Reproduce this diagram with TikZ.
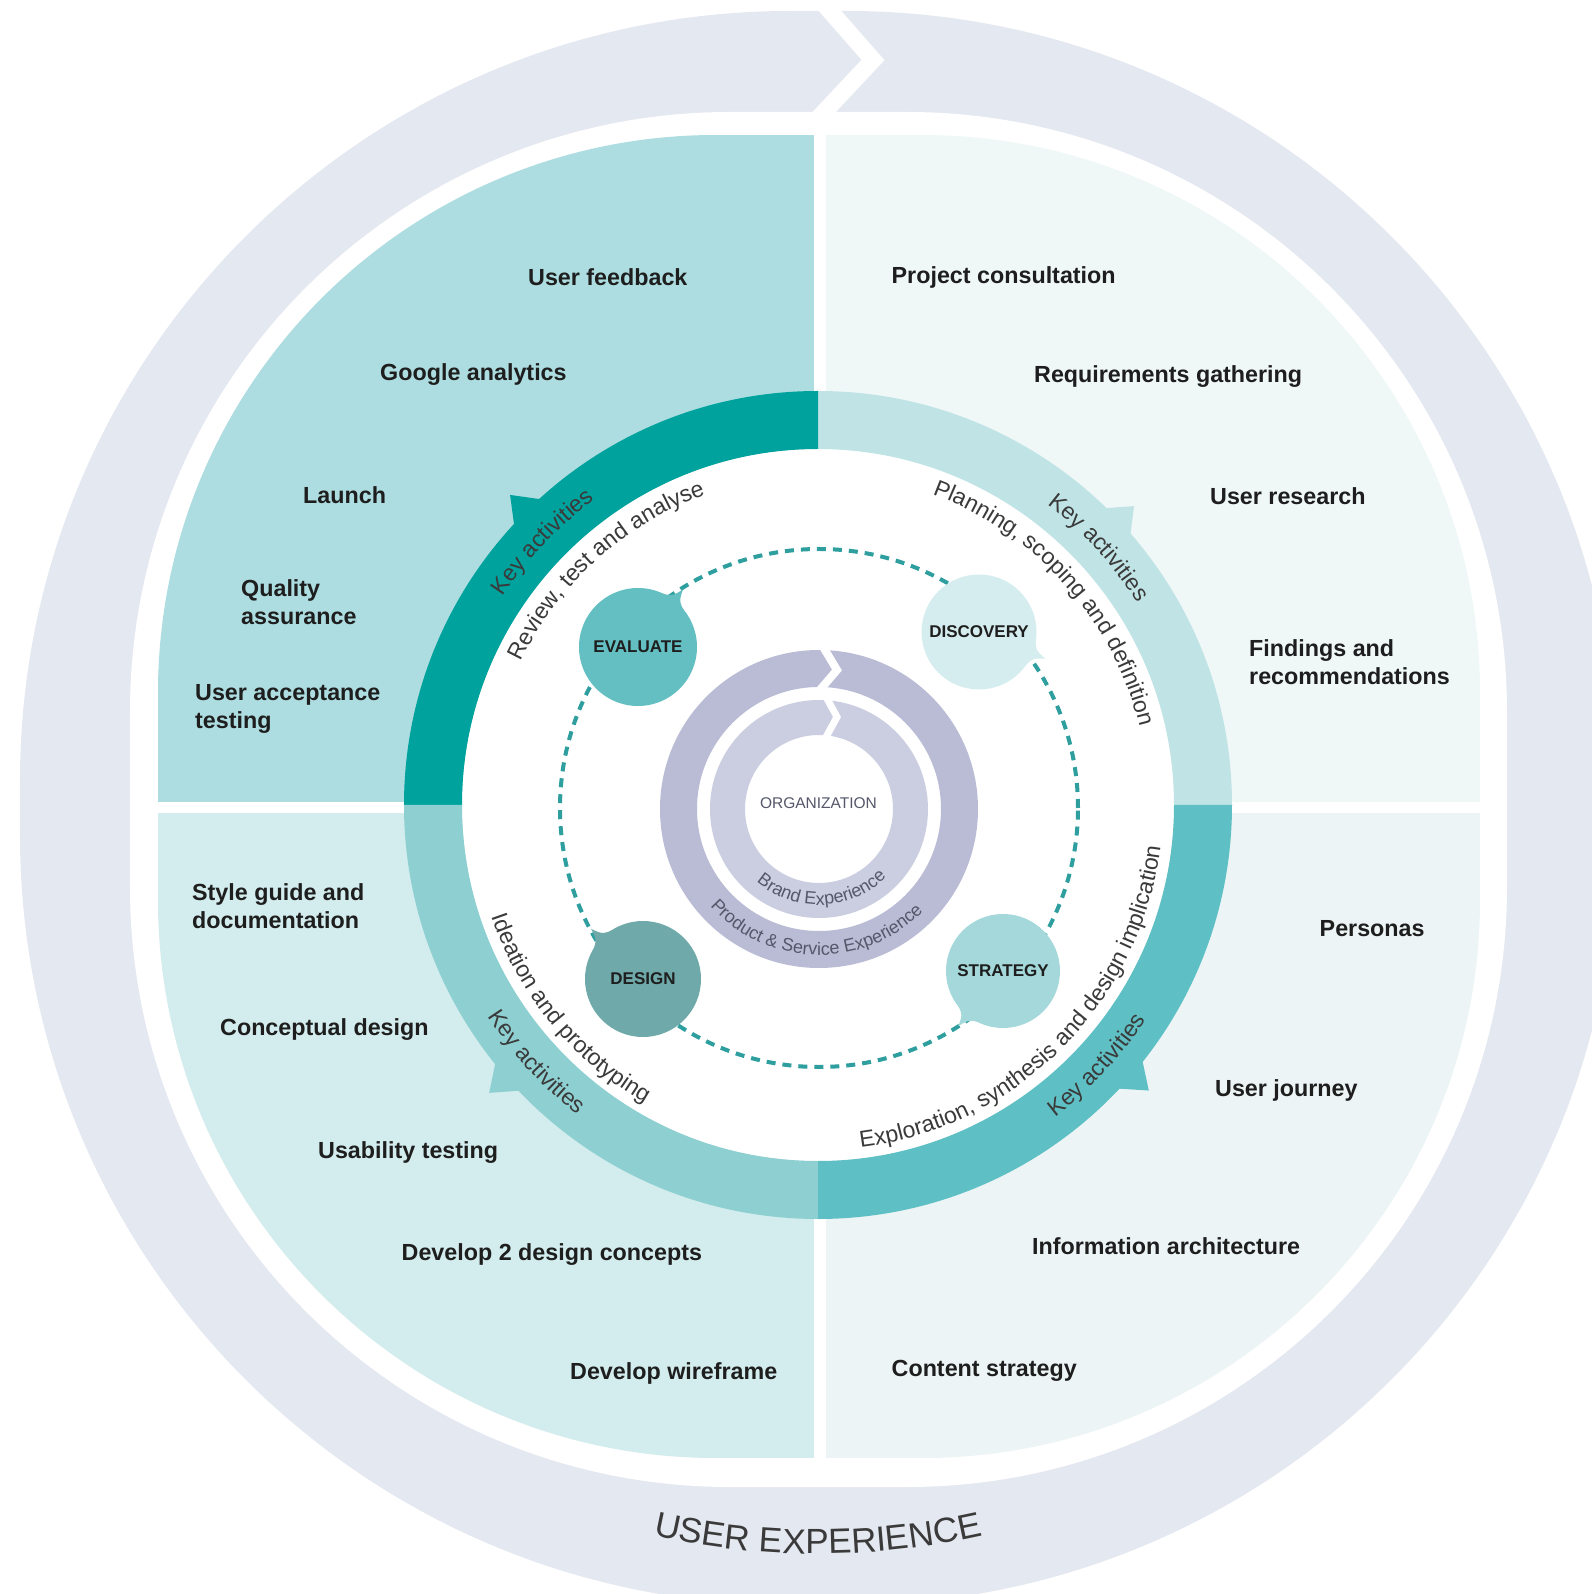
\documentclass[tikz,border=0pt]{standalone}
\usepackage{fontspec}
\setmainfont{Liberation Sans}
\usetikzlibrary{calc}

\definecolor{uxring}{HTML}{E4E8F0}
\definecolor{qtl}{HTML}{ADDDE0}
\definecolor{qtr}{HTML}{EFF7F7}
\definecolor{qbl}{HTML}{D3ECED}
\definecolor{qbr}{HTML}{ECF4F5}
\definecolor{bandtl}{HTML}{00A29D}
\definecolor{bandtr}{HTML}{C0E4E6}
\definecolor{bandbr}{HTML}{5EC0C4}
\definecolor{bandbl}{HTML}{8ED0D2}
\definecolor{evfill}{HTML}{64BFC2}
\definecolor{difill}{HTML}{D6EDEF}
\definecolor{stfill}{HTML}{A4D8DA}
\definecolor{defill}{HTML}{6FA9A9}
\definecolor{dashc}{HTML}{2E9E9E}
\definecolor{orgout}{HTML}{B9BCD4}
\definecolor{orgin}{HTML}{CBCEE0}
\definecolor{ink}{HTML}{1E1E1E}
\definecolor{softink}{HTML}{3A3A3A}
\definecolor{orgink}{HTML}{55576B}

\newcommand\bandfont{\fontsize{23}{27}\selectfont}
\newcommand\ringfont{\fontsize{18}{21}\selectfont}
\newcommand\uxfont{\fontsize{35}{40}\selectfont}

% Text set letter by letter along a circle.
% \ctprepare{name}{font}{text, ~ for spaces} measures the line once and stores
% every letter with the distance of its centre from the middle of the line;
% \ctplace{name}{radius}{middle angle}{direction}{font}{colour} sets it,
% direction 1 = anticlockwise (tops inward), -1 = clockwise (tops outward).
\makeatletter
\newdimen\ct@pos \newdimen\ct@half \newdimen\ct@c
\newcount\ct@n
\newif\ifct@place
\def\ct@stop{\ct@stop}
\newcommand\ctprepare[3]{%
  \def\ct@font{#2}%
  \ct@pos=0pt \ct@placefalse
  \ct@loop#3\ct@stop
  \ct@half=0.5\ct@pos \ct@pos=0pt \ct@placetrue
  \gdef\ct@acc{}%
  \ct@loop#3\ct@stop
  \expandafter\global\expandafter\let\csname ct@data@#1\endcsname\ct@acc}
\def\ct@loop#1{%
  \ifx#1\ct@stop
    \let\ct@next\relax
  \else
    \ifx#1~%
      \setbox\z@\hbox{\ct@font\ }%
    \else
      \setbox\z@\hbox{\ct@font#1}%
      \ifct@place
        \ct@c=\ct@pos \advance\ct@c by 0.5\wd\z@ \advance\ct@c by -\ct@half
        \xdef\ct@acc{\unexpanded\expandafter{\ct@acc}\noexpand\ct@item{\unexpanded{#1}}{\strip@pt\ct@c}}%
      \fi
    \fi
    \advance\ct@pos by \wd\z@
    \let\ct@next\ct@loop
  \fi
  \ct@next}
\newcommand\ctplace[6]{%
  \def\ct@r{#2}\def\ct@mid{#3}\def\ct@dir{#4}\def\ct@font{#5}\def\ct@col{#6}%
  \csname ct@data@#1\endcsname}
\def\ct@item#1#2{%
  \pgfmathsetmacro\ct@ang{\ct@mid+(\ct@dir)*(#2)/(\ct@r)*57.29578}%
  \pgfmathsetmacro\ct@rot{\ct@ang+90*(\ct@dir)}%
  \global\advance\ct@n by 1
  \node[anchor=base, inner sep=0pt, outer sep=0pt, rotate=\ct@rot, text=\ct@col]
    (ch\the\ct@n) at (\ct@ang:\ct@r) {\ct@font#1};}
\makeatother

% speech-bubble tail on a stage circle: node, colour, direction, node radius
\newcommand\bubbletail[4]{%
  \fill[#2] ($(#1)+({#3-20}:{#4-1})$)
    .. controls ($(#1)+({#3-4}:{#4+2})$) .. ($(#1)+(#3:{#4+14})$)
    .. controls ($(#1)+({#3+4}:{#4+2})$) .. ($(#1)+({#3+20}:{#4-1})$) -- cycle;}

\tikzset{
  qlabel/.style={font=\fontsize{23.3}{27.5}\selectfont\bfseries, text=ink,
    anchor=west, inner sep=0pt, align=left},
  stage/.style={circle, inner sep=0pt, outer sep=0pt,
    font=\fontsize{17}{20}\selectfont\bfseries, text=ink},
}

\begin{document}
\ctprepare{key}{\bandfont}{Key~activities}%
\ctprepare{review}{\bandfont}{Review,~test~and~analyse}%
\ctprepare{plan}{\bandfont}{Planning,~scoping~and~definition}%
\ctprepare{explore}{\bandfont}{Exploration,~synthesis~and~design~implication}%
\ctprepare{idea}{\bandfont}{Ideation~and~prototyping}%
\ctprepare{brand}{\ringfont}{Brand~Experience}%
\ctprepare{product}{\ringfont}{Product~\&~Service~Experience}%
\ctprepare{ux}{\uxfont}{USER~EXPERIENCE}%
\begin{tikzpicture}[x=1pt,y=1pt]
\useasboundingbox (-818,-789) rectangle (773,805);

% outer user-experience ring with its chevron cut
\fill[uxring, rounded corners=770pt] (-798,-800) rectangle (799,794);
\fill[white, rounded corners=600pt] (-688,-682) rectangle (689,693);
\draw[white, line width=17pt, miter limit=10] (-2,810) -- (55,745) -- (-6,680);

% four phase quadrants
\begin{scope}
  \clip[rounded corners=558pt] (-660,-653) rectangle (662,670);
  \fill[qtl] (-660,3) rectangle (-4,670);
  \fill[qtr] (8,3) rectangle (662,670);
  \fill[qbl] (-660,-8) rectangle (-4,-653);
  \fill[qbr] (8,-8) rectangle (662,-653);
\end{scope}

% inner white disc
\fill[white] (0,0) circle (356);

% key-activity band
\fill[bandtr] (0:414) arc[start angle=0,end angle=90,radius=414] -- (90:356) arc[start angle=90,end angle=0,radius=356] -- cycle;
\fill[bandtl] (90:414) arc[start angle=90,end angle=180,radius=414] -- (180:356) arc[start angle=180,end angle=90,radius=356] -- cycle;
\fill[bandbl] (180:414) arc[start angle=180,end angle=270,radius=414] -- (270:356) arc[start angle=270,end angle=180,radius=356] -- cycle;
\fill[bandbr] (270:414) arc[start angle=270,end angle=360,radius=414] -- (360:356) arc[start angle=360,end angle=270,radius=356] -- cycle;
\fill[bandtl] (132:411) -- (134.8:437) -- (137.6:411) -- cycle;
\fill[bandtr] (40.6:411) -- (43.4:435) -- (46.2:411) -- cycle;
\fill[bandbr] (-43.6:411) -- (-40.8:437) -- (-38:411) -- cycle;
\fill[bandbl] (218.4:411) -- (221.2:437) -- (224:411) -- cycle;

% band captions
\ctplace{key}{378}{136.3}{-1}{\bandfont}{softink}
\ctplace{key}{378}{42.5}{-1}{\bandfont}{softink}
\ctplace{key}{392}{-43}{1}{\bandfont}{softink}
\ctplace{key}{392}{222.4}{1}{\bandfont}{softink}
\ctplace{review}{330}{132.1}{-1}{\bandfont}{softink}
\ctplace{plan}{331}{41.7}{-1}{\bandfont}{softink}
\ctplace{explore}{345}{-44.9}{1}{\bandfont}{softink}
\ctplace{idea}{345}{219.4}{1}{\bandfont}{softink}

% dashed cycle linking the stages
\draw[dashc, line width=4pt, dash pattern=on 9pt off 7pt] (1,-3) circle (259);

% stages
\node[stage, fill=evfill, minimum size=118pt] (ev) at (-180,158) {EVALUATE};
\node[stage, fill=difill, minimum size=115pt] (di) at (161,173) {DISCOVERY};
\node[stage, fill=stfill, minimum size=114pt] (st) at (185,-166) {STRATEGY};
\node[stage, fill=defill, minimum size=116pt] (de) at (-175,-174) {DESIGN};
\bubbletail{ev}{evfill}{52}{59}
\bubbletail{di}{difill}{-22}{57.5}
\bubbletail{st}{stfill}{231}{57}
\bubbletail{de}{defill}{136}{58}

% organisation core rings
\fill[orgout, even odd rule] (1,-4) circle (159) (1,-4) circle (122);
\fill[orgin, even odd rule] (1,-4) circle (109) (1,-4) circle (74);
\draw[white, line width=8pt, miter limit=10] (1,165) -- (19,135) -- (1,114);
\draw[white, line width=7pt, miter limit=10] (6,112) -- (19,88) -- (7,66);
\begin{scope}[shift={(1,-4)}]
  \ctplace{brand}{96}{272}{1}{\ringfont}{orgink}
  \ctplace{product}{146}{268.7}{1}{\ringfont}{orgink}
\end{scope}
\node[font=\fontsize{15.5}{18}\selectfont, text=orgink, inner sep=0pt] (org) at (0.5,2) {ORGANIZATION};

% activity labels
\begin{scope}[shift={(-818,805)}, yscale=-1]
  \node[qlabel] (l1) at (528,277.5) {User feedback};
  \node[qlabel] (l2) at (380,375) {Google analytics};
  \node[qlabel] (l3) at (303,495) {Launch};
  \node[qlabel] (l4) at (241,602) {Quality\\assurance};
  \node[qlabel] (l5) at (195,709) {User acceptance\\testing};

  \node[qlabel] (r1) at (891.5,277.5) {Project consultation};
  \node[qlabel] (r2) at (1034,377) {Requirements gathering};
  \node[qlabel] (r3) at (1210,496) {User research};
  \node[qlabel] (r4) at (1249,662) {Findings and\\recommendations};

  \node[qlabel] (b1) at (192,906) {Style guide and\\documentation};
  \node[qlabel] (b2) at (220,1030) {Conceptual design};
  \node[qlabel] (b3) at (318,1153) {Usability testing};
  \node[qlabel] (b4) at (401.5,1254.5) {Develop 2 design concepts};
  \node[qlabel] (b5) at (570,1373) {Develop wireframe};

  \node[qlabel] (s1) at (1319.5,929) {Personas};
  \node[qlabel] (s2) at (1215,1090) {User journey};
  \node[qlabel] (s3) at (1032,1246) {Information architecture};
  \node[qlabel] (s4) at (891.5,1371) {Content strategy};
\end{scope}

% ring title
\ctplace{ux}{749}{270}{1}{\uxfont}{softink}
\end{tikzpicture}
\end{document}
